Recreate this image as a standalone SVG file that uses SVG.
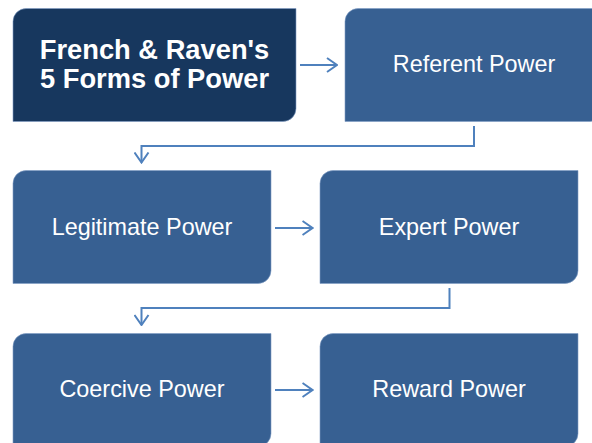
<svg xmlns="http://www.w3.org/2000/svg" width="592" height="443" viewBox="0 0 592 443">
<style>
.box{fill:#376092;stroke:#7f9cc4;stroke-width:0.6}
.dark{fill:#17375E;stroke:#7f9cc4;stroke-width:0.6}
.lbl{font-family:"Liberation Sans",Arial,sans-serif;font-size:23.4px;fill:#fff;text-anchor:middle}
.ttl{font-family:"Liberation Sans",Arial,sans-serif;font-size:27.3px;font-weight:bold;fill:#fff;text-anchor:middle}
.con{fill:none;stroke:#4F81BD;stroke-width:2}
</style>
<defs>
<marker id="ah" viewBox="0 0 12 16" refX="11" refY="8" markerWidth="12" markerHeight="16" markerUnits="userSpaceOnUse" orient="auto">
<path d="M1,1 L11,8 L1,15" fill="none" stroke="#4F81BD" stroke-width="2"/>
</marker>
</defs>
<rect width="592" height="443" fill="#fff"/>
<g id="n-title">
<path class="dark" d="M26,8.5 H296 V108.5 A13,13 0 0 1 283,121.5 H13 V21.5 A13,13 0 0 1 26,8.5 Z"/>
<text class="ttl" x="154.5" y="58.5">French &amp; Raven's</text>
<text class="ttl" x="154.5" y="88">5 Forms of Power</text>
</g>
<g id="n-referent">
<path class="box" d="M358,8.5 H603 V108.5 A13,13 0 0 1 590,121.5 H345 V21.5 A13,13 0 0 1 358,8.5 Z"/>
<text class="lbl" x="474" y="72">Referent Power</text>
</g>
<g id="n-legitimate">
<path class="box" d="M26,170.5 H271 V270.5 A13,13 0 0 1 258,283.5 H13 V183.5 A13,13 0 0 1 26,170.5 Z"/>
<text class="lbl" x="142" y="235">Legitimate Power</text>
</g>
<g id="n-expert">
<path class="box" d="M333,170.5 H578 V270.5 A13,13 0 0 1 565,283.5 H320 V183.5 A13,13 0 0 1 333,170.5 Z"/>
<text class="lbl" x="449" y="235">Expert Power</text>
</g>
<g id="n-coercive">
<path class="box" d="M26,333.5 H271 V433.5 A13,13 0 0 1 258,446.5 H13 V346.5 A13,13 0 0 1 26,333.5 Z"/>
<text class="lbl" x="142" y="397">Coercive Power</text>
</g>
<g id="n-reward">
<path class="box" d="M333,333.5 H578 V433.5 A13,13 0 0 1 565,446.5 H320 V346.5 A13,13 0 0 1 333,333.5 Z"/>
<text class="lbl" x="449" y="397">Reward Power</text>
</g>
<g id="connectors">
<path class="con" marker-end="url(#ah)" d="M300,65 H337"/>
<path class="con" marker-end="url(#ah)" d="M474,126 V146 H141.5 V162.5"/>
<path class="con" marker-end="url(#ah)" d="M275,228 H312.5"/>
<path class="con" marker-end="url(#ah)" d="M449.5,288 V308 H141.5 V325"/>
<path class="con" marker-end="url(#ah)" d="M275,390 H312.5"/>
</g>
</svg>
